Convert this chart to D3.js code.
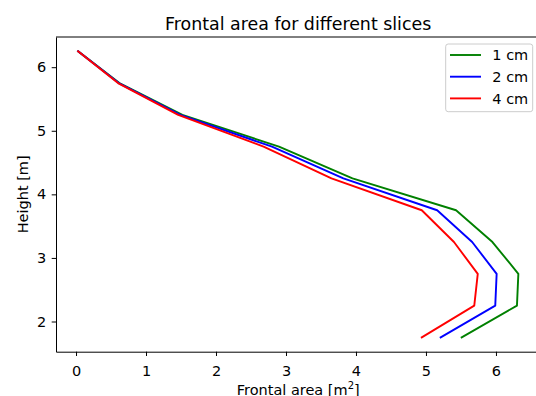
<!DOCTYPE html>
<html>
<head>
<meta charset="utf-8">
<script src="https://cdn.jsdelivr.net/npm/d3@7"></script>
<style>
  body { margin: 0; background: #fff; }
  svg { display: block; font-family: "DejaVu Sans", sans-serif; }
</style>
</head>
<body>
<div id="chart"></div>
<script>
// data
var heights = [6.25, 5.75, 5.25, 4.75, 4.25, 3.75, 3.25, 2.75, 2.25, 1.75];
var area1cm = [0.03, 0.62, 1.52, 2.90, 3.95, 5.43, 5.95, 6.32, 6.30, 5.51];
var area2cm = [0.03, 0.61, 1.49, 2.80, 3.82, 5.16, 5.66, 6.01, 5.99, 5.21];
var area4cm = [0.03, 0.60, 1.46, 2.68, 3.65, 4.94, 5.40, 5.74, 5.69, 4.94];
var seriesNames = ["1 cm", "2 cm", "4 cm"];
var seriesColors = ["#008000", "#0000ff", "#ff0000"];
var xTicks = [0, 1, 2, 3, 4, 5, 6];
var yTicks = [2, 3, 4, 5, 6];

var W = 536, H = 396;
// the axes run a little past the right edge of the picture (cropped figure)
var margin = { top: 37, left: 56, bottom: 44.3, right: -4.4 };
var width = W - margin.left - margin.right,
    height = H - margin.top - margin.bottom;

var svg = d3.select("#chart").append("svg")
    .attr("width", W).attr("height", H);

var g = svg.append("g")
    .attr("transform", "translate(" + margin.left + "," + margin.top + ")");

var x = d3.scaleLinear().domain([-0.286, 6.635]).range([0, width]);
var y = d3.scaleLinear().domain([1.525, 6.475]).range([height, 0]);

// lines
var series = [area1cm, area2cm, area4cm];
var line = d3.line()
    .x(function (d) { return x(d[0]); })
    .y(function (d) { return y(d[1]); });

series.forEach(function (vals, i) {
    g.append("path")
        .datum(vals.map(function (v, j) { return [v, heights[j]]; }))
        .attr("fill", "none")
        .attr("stroke", seriesColors[i])
        .attr("stroke-width", 1.9)
        .attr("stroke-linejoin", "round")
        .attr("stroke-linecap", "square")
        .attr("d", line);
});

// axes
var fmt = d3.format("d");
var xAxis = g.append("g")
    .attr("transform", "translate(0," + height + ")")
    .call(d3.axisBottom(x).tickValues(xTicks).tickFormat(fmt)
        .tickSize(4.3).tickPadding(9.3).tickSizeOuter(0));
var yAxis = g.append("g")
    .call(d3.axisLeft(y).tickValues(yTicks).tickFormat(fmt)
        .tickSize(4.3).tickPadding(5.5).tickSizeOuter(0));

[xAxis, yAxis].forEach(function (a) {
    a.selectAll("path, line").attr("stroke", "#000").attr("stroke-width", 1);
    a.selectAll("text").attr("fill", "#000").attr("font-size", "14.5px")
        .attr("font-family", "DejaVu Sans");
});

// top spine
g.append("line")
    .attr("x1", 0).attr("x2", width).attr("y1", 0).attr("y2", 0)
    .attr("stroke", "#000").attr("stroke-width", 1);

// title
svg.append("text")
    .attr("x", margin.left + width / 2).attr("y", 29.5)
    .attr("text-anchor", "middle")
    .attr("font-size", "17.4px")
    .text("Frontal area for different slices");

// axis labels
var xl = svg.append("text")
    .attr("x", margin.left + width / 2).attr("y", 394.5)
    .attr("text-anchor", "middle")
    .attr("font-size", "14.5px");
xl.append("tspan").text("Frontal area [m");
xl.append("tspan").attr("dy", -6).attr("font-size", "10px").text("2");
xl.append("tspan").attr("dy", 6).text("]");

svg.append("text")
    .attr("transform", "translate(28," + (margin.top + height / 2) + ") rotate(-90)")
    .attr("text-anchor", "middle")
    .attr("font-size", "14.5px")
    .text("Height [m]");

// legend
var leg = svg.append("g").attr("transform", "translate(445.7,44)");
leg.append("rect")
    .attr("width", 87).attr("height", 67.7)
    .attr("rx", 2.5)
    .attr("fill", "#fff").attr("fill-opacity", 0.8)
    .attr("stroke", "#cccccc").attr("stroke-width", 1);
seriesNames.forEach(function (name, i) {
    var yy = 11 + i * 21.7;
    leg.append("line")
        .attr("x1", 4.3).attr("x2", 35.3).attr("y1", yy).attr("y2", yy)
        .attr("stroke", seriesColors[i]).attr("stroke-width", 1.9);
    leg.append("text")
        .attr("x", 46.6).attr("y", yy + 5.2)
        .attr("font-size", "14.5px")
        .text(name);
});
</script>
</body>
</html>
